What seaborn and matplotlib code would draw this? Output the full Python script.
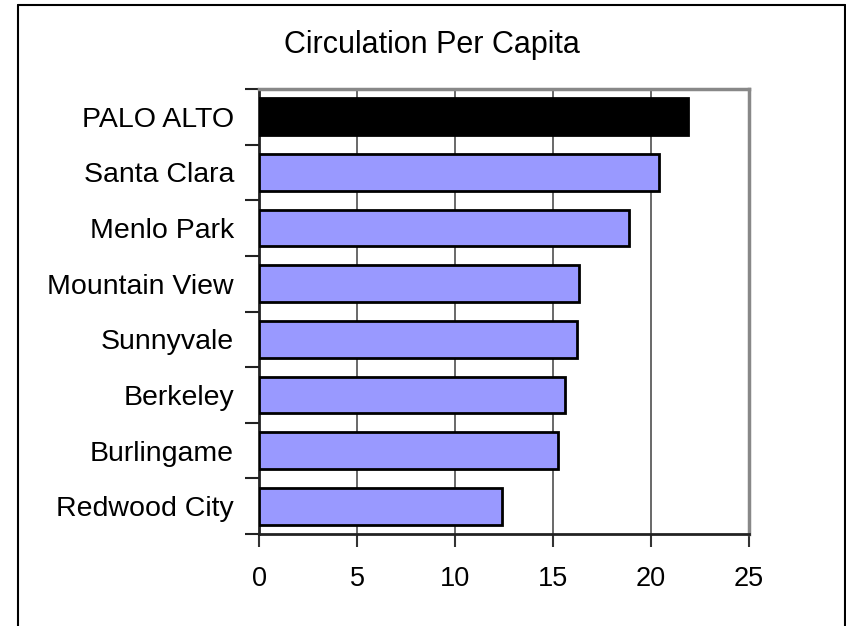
import matplotlib
matplotlib.use("Agg")
import matplotlib.pyplot as plt
from matplotlib.lines import Line2D
import seaborn as sns
import pandas as pd
import numpy as np

cities = ["PALO ALTO", "Santa Clara", "Menlo Park", "Mountain View",
          "Sunnyvale", "Berkeley", "Burlingame", "Redwood City"]
circulation = [21.9, 20.4, 18.9, 16.35, 16.2, 15.6, 15.25, 12.4]
bar_colors = ["#000000"] + ["#9999FF"] * 7
x_ticks = [0, 5, 10, 15, 20, 25]

sns.set_theme(style="white")
plt.rcParams["font.family"] = ["Liberation Sans", "DejaVu Sans"]
plt.rcParams["text.color"] = "black"
plt.rcParams["xtick.color"] = "black"
plt.rcParams["ytick.color"] = "black"
plt.rcParams["xtick.labelcolor"] = "black"
plt.rcParams["ytick.labelcolor"] = "black"

df = pd.DataFrame({"city": cities, "circulation": circulation})

fig = plt.figure(figsize=(8.46, 6.26), dpi=100)
ax = fig.add_axes([259 / 846, 1 - 534 / 626, 490 / 846, 445 / 626])

sns.barplot(data=df, x="circulation", y="city", hue="city", palette=bar_colors,
            legend=False, orient="h", width=0.66, saturation=1, ax=ax,
            edgecolor="black", linewidth=2, zorder=3)

ax.set_xlim(0, 25)
ax.set_ylim(7.5, -0.5)
ax.set_xticks(x_ticks)
ax.set_xticklabels([str(t) for t in x_ticks], fontsize=19.5)
ax.set_xlabel("")
ax.set_ylabel("")

# category labels at band centres, tick marks at band boundaries
ax.set_yticks(np.arange(-0.5, 8.0, 1.0))
ax.set_yticklabels([])
ax.set_yticks(np.arange(len(cities)), minor=True)
ax.set_yticklabels(cities, minor=True, fontsize=20.5)
ax.tick_params(axis="y", which="minor", length=0, pad=18)
ax.tick_params(axis="y", which="major", length=10, width=1.5, color="#222222",
               direction="out", left=True)
ax.tick_params(axis="x", which="major", length=9, width=1.5, color="#333333",
               direction="out", bottom=True, pad=14)

ax.grid(axis="x", color="#404040", linewidth=1.1, zorder=0)
ax.grid(axis="y", visible=False)
ax.set_axisbelow(True)

for side in ["left", "bottom"]:
    ax.spines[side].set_color("#222222")
    ax.spines[side].set_linewidth(2)
for side in ["top", "right"]:
    ax.spines[side].set_color("#888888")
    ax.spines[side].set_linewidth(2.5)
for s in ax.spines.values():
    s.set_visible(True)

fig.text(432 / 846, 1 - 53.5 / 626, "Circulation Per Capita", fontsize=22,
         ha="center", va="baseline", color="black")

# outer chart frame
frame_kw = dict(color="black", linewidth=1.5, transform=fig.transFigure)
fig.add_artist(Line2D([18 / 846, 18 / 846], [0, 1 - 5 / 626], **frame_kw))
fig.add_artist(Line2D([18 / 846, 845 / 846], [1 - 5 / 626, 1 - 5 / 626], **frame_kw))
fig.add_artist(Line2D([845 / 846, 845 / 846], [0, 1 - 5 / 626], **frame_kw))

fig.savefig("out.png", dpi=100, facecolor="white")
